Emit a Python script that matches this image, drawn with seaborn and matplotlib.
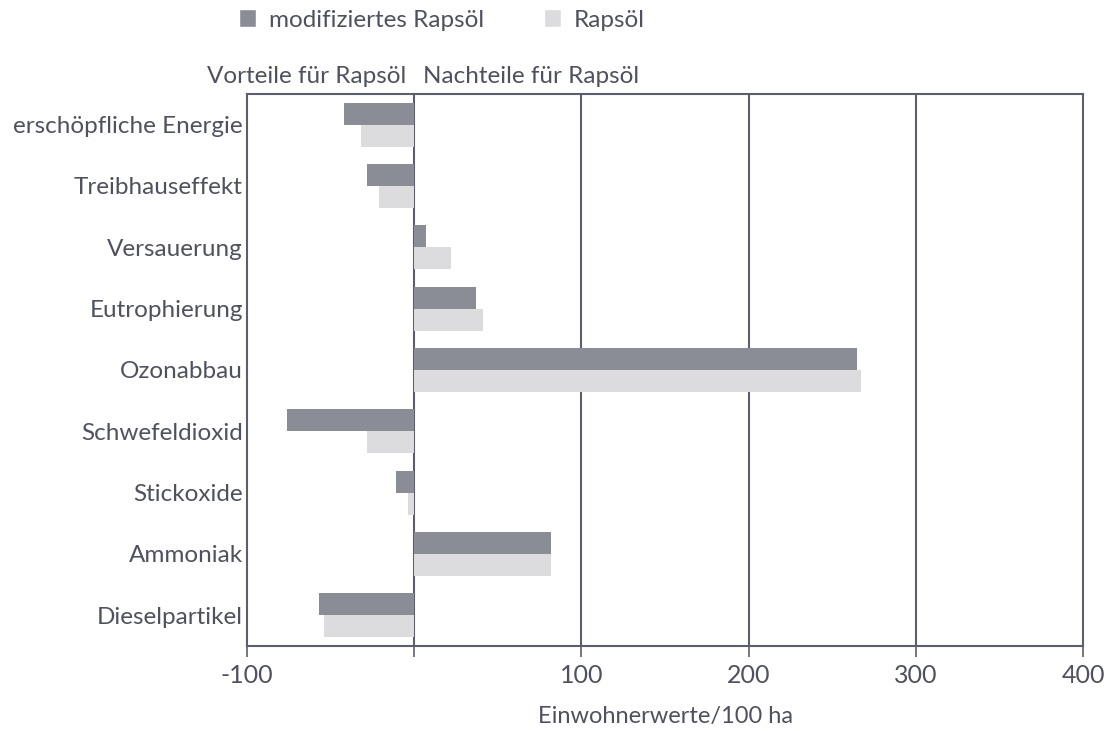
import matplotlib
matplotlib.use('Agg')
import matplotlib.pyplot as plt
import seaborn as sns
import pandas as pd
from matplotlib.patches import Patch

categories = ['erschöpfliche Energie', 'Treibhauseffekt', 'Versauerung', 'Eutrophierung',
              'Ozonabbau', 'Schwefeldioxid', 'Stickoxide', 'Ammoniak', 'Dieselpartikel']
modifiziert = [-42, -28, 7, 37, 265, -76, -11, 82, -57]
rapsoel = [-32, -21, 22, 41, 267, -28, -4, 82, -54]
series = ['modifiziertes Rapsöl', 'Rapsöl']
xticks = [-100, 0, 100, 200, 300, 400]
xticklabels = ['-100', '', '100', '200', '300', '400']

df = pd.DataFrame({
    'kategorie': categories * 2,
    'wert': modifiziert + rapsoel,
    'serie': [series[0]] * len(categories) + [series[1]] * len(categories),
})

dark = '#8b8d96'
light = '#dcdcde'
line_col = '#5c5f6b'
text_col = '#4f525e'

sns.set_style('white')
plt.rcParams['font.family'] = ['Lato', 'DejaVu Sans']

fig = plt.figure(figsize=(11.1, 7.31), dpi=100)
ax = fig.add_axes([247 / 1110, 1 - 646 / 731, (1083 - 247) / 1110, (646 - 94) / 731])

sns.barplot(data=df, y='kategorie', x='wert', hue='serie', order=categories,
            hue_order=series, palette=[dark, light], width=0.72,
            saturation=1, linewidth=0, ax=ax, legend=False)

ax.set_xlim(-100, 400)
ax.set_xticks(xticks)
ax.set_xticklabels(xticklabels)
for x in [0, 100, 200, 300]:
    ax.axvline(x, color=line_col, lw=1.5, zorder=0.5)
for s in ax.spines.values():
    s.set_visible(True)
    s.set_color(line_col)
    s.set_linewidth(1.5)

ax.tick_params(axis='x', direction='out', length=8, width=1.2, color=line_col,
               labelsize=18, labelcolor=text_col, pad=5, bottom=True)
ax.tick_params(axis='y', length=0, labelsize=17.5, labelcolor=text_col, pad=3)
ax.set_ylabel('')
ax.set_xlabel('Einwohnerwerte/100 ha', fontsize=17, color=text_col, labelpad=14)

ax.text(-5, 1.012, 'Vorteile für Rapsöl', transform=ax.get_xaxis_transform(),
        ha='right', va='bottom', fontsize=17.5, color=text_col)
ax.text(5, 1.012, 'Nachteile für Rapsöl', transform=ax.get_xaxis_transform(),
        ha='left', va='bottom', fontsize=17.5, color=text_col)

handles = [Patch(facecolor=dark, label=series[0]), Patch(facecolor=light, label=series[1])]
fig.legend(handles=handles, loc='center', bbox_to_anchor=(442 / 1110, 1 - 20 / 731), ncol=2,
           frameon=False, fontsize=17.5, labelcolor=text_col, handlelength=0.7,
           handleheight=0.7, handletextpad=0.5, columnspacing=2.5)

fig.savefig('out.png', dpi=100)
